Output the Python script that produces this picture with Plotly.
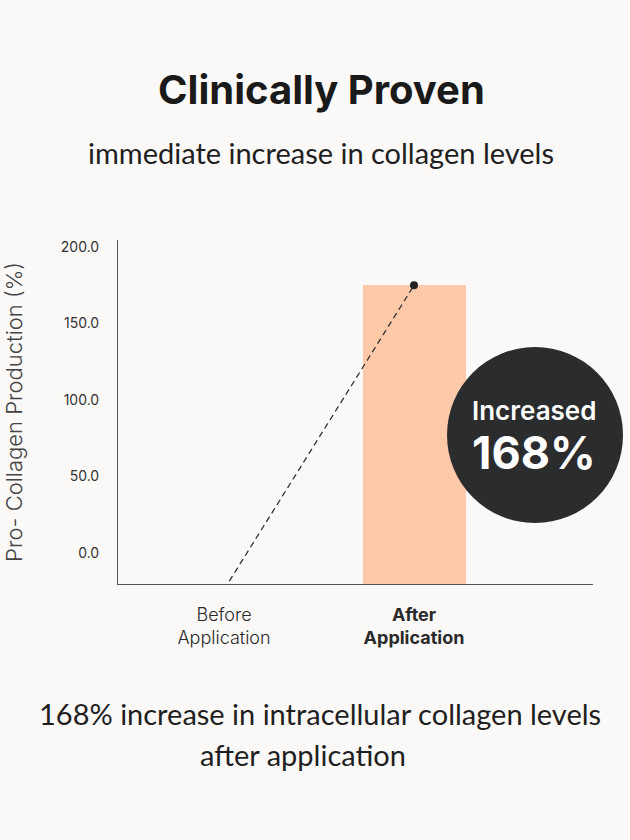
import plotly.graph_objects as go

categories = ["Before Application", "After Application"]
bar_values = [None, 175]
line_values = [-24, 175]
y_ticks = [0, 50, 100, 150, 200]
y_tick_labels = ["0.0", "50.0", "100.0", "150.0", "200.0"]
x_tick_labels = ["Before<br>Application", "<b>After</b><br><b>Application</b>"]

xpos = list(range(len(categories)))
bg = "#faf9f7"
y_min, y_max = -20.3, 204.6

W, H = 630, 840
ML, MR, MT, MB = 118, 37, 240, 256
plot_w = W - ML - MR
plot_h = H - MT - MB


def px_x(xp):
    return (xp - ML) / plot_w


def px_y(yp):
    return (H - MB - yp) / plot_h


fig = go.Figure()
fig.add_trace(go.Bar(
    x=xpos, y=[(v - y_min) if v is not None else 0 for v in bar_values],
    base=y_min, width=0.542,
    marker=dict(color="#fec9a9", line=dict(width=0)),
    hoverinfo="skip", showlegend=False,
))
fig.add_trace(go.Scatter(
    x=xpos, y=line_values, mode="lines",
    line=dict(color="#333333", width=1.3, dash="6px,4px"),
    showlegend=False, hoverinfo="skip",
))
fig.add_trace(go.Scatter(
    x=[xpos[1]], y=[line_values[1]], mode="markers",
    marker=dict(color="#222222", size=8),
    showlegend=False, hoverinfo="skip", cliponaxis=False,
))

cx, cy = px_x(535), px_y(435)
fig.add_shape(type="circle", xref="paper", yref="paper",
              xsizemode="pixel", ysizemode="pixel",
              xanchor=cx, yanchor=cy,
              x0=-88, x1=88, y0=-88, y1=88,
              fillcolor="#2b2c2d", line=dict(width=0), layer="above")

fig.add_annotation(x=px_x(534), y=px_y(410), xref="paper", yref="paper", text="Increased",
                   showarrow=False, xanchor="center", yanchor="middle",
                   font=dict(family="Inter", size=26, color="white", weight=600))
fig.add_annotation(x=px_x(534), y=px_y(452), xref="paper", yref="paper", text="168%",
                   showarrow=False, xanchor="center", yanchor="middle",
                   font=dict(family="Inter", size=45, color="white", weight=700))

texts = [
    ("<b>Clinically Proven</b>", 321, 90, 40, "Inter", "#1a1a1a"),
    ("immediate increase in collagen levels", 321, 152, 29, "Lato", "#1f1f1f"),
    ("168% increase in intracellular collagen levels", 320, 713, 29, "Lato", "#1f1f1f"),
    ("after application", 303, 754, 29, "Lato", "#1f1f1f"),
]
for t, xpix, ypix, sz, fam, col in texts:
    fig.add_annotation(x=px_x(xpix), y=px_y(ypix), xref="paper", yref="paper",
                       text=t, showarrow=False, xanchor="center", yanchor="middle",
                       font=dict(family=fam, size=sz, color=col))

fig.update_layout(
    width=W, height=H,
    paper_bgcolor=bg, plot_bgcolor=bg,
    margin=dict(l=ML, r=MR, t=MT, b=MB),
    bargap=0,
    xaxis=dict(
        range=[-0.558, 1.942], tickvals=xpos, ticktext=x_tick_labels,
        showgrid=False, zeroline=False, showline=True, linecolor="#555555",
        linewidth=1, ticks="", tickfont=dict(family="Inter", size=18, color="#2a2a2a", weight=300),
        ticklabelstandoff=14,
    ),
    yaxis=dict(
        range=[y_min, y_max], tickvals=y_ticks, ticktext=y_tick_labels,
        showgrid=False, zeroline=False, showline=True, linecolor="#555555",
        linewidth=1, ticks="", ticklabelstandoff=15,
        tickfont=dict(family="Inter", size=14, color="#333333"),
        title=dict(text="Pro- Collagen Production (%)", standoff=32,
                   font=dict(family="Inter", size=22, color="#444444", weight=300)),
    ),
)

fig.write_html("out.html", config={"displayModeBar": False},
               post_script="document.body.style.margin='0';document.body.style.background='%s';" % bg)
